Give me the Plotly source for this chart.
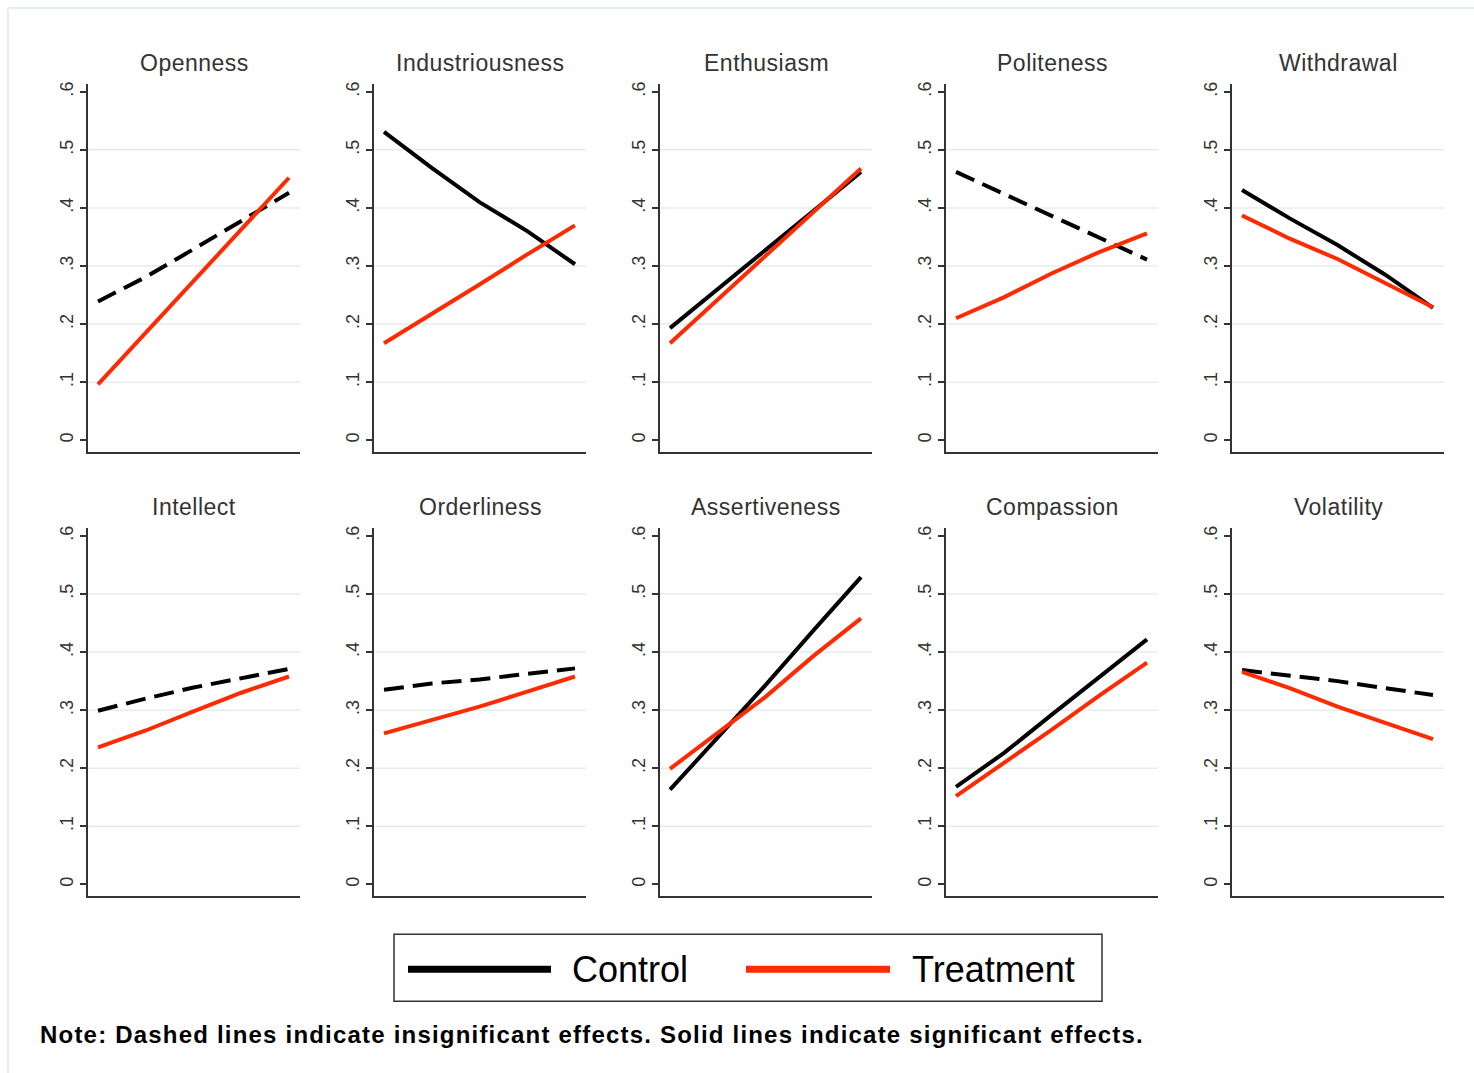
import plotly.graph_objects as go

# ---- data -------------------------------------------------------------
traits = ["Openness", "Industriousness", "Enthusiasm", "Politeness", "Withdrawal",
          "Intellect", "Orderliness", "Assertiveness", "Compassion", "Volatility"]

# position along the (unlabelled) horizontal axis
x_points = [0, 0.25, 0.5, 0.75, 1]

openness_control = [0.239, 0.281, 0.329, 0.377, 0.426]
openness_treatment = [0.096, 0.185, 0.274, 0.363, 0.452]
industriousness_control = [0.531, 0.469, 0.410, 0.360, 0.303]
industriousness_treatment = [0.167, 0.217, 0.268, 0.320, 0.370]
enthusiasm_control = [0.193, 0.260, 0.328, 0.395, 0.462]
enthusiasm_treatment = [0.167, 0.242, 0.318, 0.393, 0.468]
politeness_control = [0.462, 0.424, 0.386, 0.349, 0.311]
politeness_treatment = [0.210, 0.246, 0.287, 0.324, 0.356]
withdrawal_control = [0.431, 0.382, 0.336, 0.285, 0.228]
withdrawal_treatment = [0.387, 0.347, 0.312, 0.270, 0.229]
intellect_control = [0.299, 0.320, 0.339, 0.355, 0.371]
intellect_treatment = [0.236, 0.265, 0.298, 0.330, 0.358]
orderliness_control = [0.335, 0.346, 0.353, 0.362, 0.372]
orderliness_treatment = [0.260, 0.283, 0.306, 0.332, 0.358]
assertiveness_control = [0.163, 0.252, 0.343, 0.437, 0.529]
assertiveness_treatment = [0.199, 0.260, 0.323, 0.393, 0.458]
compassion_control = [0.168, 0.226, 0.292, 0.357, 0.422]
compassion_treatment = [0.152, 0.208, 0.266, 0.325, 0.382]
volatility_control = [0.369, 0.359, 0.350, 0.338, 0.326]
volatility_treatment = [0.366, 0.338, 0.306, 0.278, 0.250]

control_series = [openness_control, industriousness_control, enthusiasm_control,
                  politeness_control, withdrawal_control, intellect_control,
                  orderliness_control, assertiveness_control, compassion_control,
                  volatility_control]
treatment_series = [openness_treatment, industriousness_treatment, enthusiasm_treatment,
                    politeness_treatment, withdrawal_treatment, intellect_treatment,
                    orderliness_treatment, assertiveness_treatment, compassion_treatment,
                    volatility_treatment]

# significant control effect -> solid line, otherwise dashed
control_significant = [False, True, True, False, True, False, False, True, True, False]
treatment_significant = [True] * 10

y_ticks = [0, 0.1, 0.2, 0.3, 0.4, 0.5, 0.6]
y_tick_labels = ["0", ".1", ".2", ".3", ".4", ".5", ".6"]
grid_values = [0.1, 0.2, 0.3, 0.4, 0.5]

legend_labels = ["Control", "Treatment"]
note_text = "Note: Dashed lines indicate insignificant effects. Solid lines indicate significant effects."

# ---- styling / layout -------------------------------------------------
W, H = 1474, 1073
FONT = "Arial, Liberation Sans, Helvetica, sans-serif"
BLACK = "#000000"
RED = "#ff2a00"
AXIS = "#333333"
GRID = "#e3eded"
DASH = "20px,9px"

col_left = [88, 374, 660, 946, 1232]
panel_w = 212
row_top = [82, 527]
panel_h = 369
x_range = [-0.0524, 1.0576]
y_range = [-0.0206, 0.6137]


def px_x(v):
    return v / W


def px_y(v):
    return 1 - v / H


fig = go.Figure()
layout = dict(
    width=W, height=H,
    margin=dict(l=0, r=0, t=0, b=0),
    paper_bgcolor="white", plot_bgcolor="white",
    showlegend=False,
    font=dict(family=FONT, color=AXIS),
)
shapes = []
annotations = []

for i, trait in enumerate(traits):
    row, col = divmod(i, 5)
    n = i + 1
    xa = "x" if n == 1 else f"x{n}"
    ya = "y" if n == 1 else f"y{n}"
    left = col_left[col]
    top = row_top[row]

    layout["xaxis" if n == 1 else f"xaxis{n}"] = dict(
        domain=[px_x(left), px_x(left + panel_w)],
        range=x_range, anchor=ya,
        showticklabels=False, ticks="", showgrid=False, zeroline=False,
        showline=True, linecolor=AXIS, linewidth=2, fixedrange=True,
    )
    layout["yaxis" if n == 1 else f"yaxis{n}"] = dict(
        domain=[px_y(top + panel_h), px_y(top)],
        range=y_range, anchor=xa,
        tickvals=y_ticks, ticktext=y_tick_labels, tickangle=-90,
        ticks="outside", ticklen=6, tickwidth=1.5, tickcolor=AXIS,
        tickfont=dict(size=18, color=AXIS, family=FONT),
        showgrid=False, zeroline=False,
        showline=True, linecolor=AXIS, linewidth=2, fixedrange=True,
    )

    for g in grid_values:
        shapes.append(dict(type="line", xref=f"{xa} domain", yref=ya,
                           x0=0, x1=1, y0=g, y1=g,
                           line=dict(color=GRID, width=1.5), layer="below"))

    fig.add_trace(go.Scatter(
        x=x_points, y=control_series[i], xaxis=xa, yaxis=ya, mode="lines",
        name=legend_labels[0],
        line=dict(color=BLACK, width=4,
                  dash="solid" if control_significant[i] else DASH),
    ))
    fig.add_trace(go.Scatter(
        x=x_points, y=treatment_series[i], xaxis=xa, yaxis=ya, mode="lines",
        name=legend_labels[1],
        line=dict(color=RED, width=4,
                  dash="solid" if treatment_significant[i] else DASH),
    ))

    annotations.append(dict(
        text=f'<span style="letter-spacing:0.5px">{trait}</span>',
        xref="paper", yref="paper",
        x=px_x(left + panel_w / 2), y=px_y(top - 21),
        xanchor="center", yanchor="middle", showarrow=False,
        font=dict(size=23, color=AXIS, family=FONT),
    ))

# legend box drawn below the panels
shapes.append(dict(type="rect", xref="paper", yref="paper",
                   x0=px_x(394), x1=px_x(1102), y0=px_y(1001), y1=px_y(934),
                   line=dict(color=AXIS, width=1.5), fillcolor="white"))
for label, color, x0, x1, tx in [(legend_labels[0], BLACK, 408, 551, 570),
                                 (legend_labels[1], RED, 746, 890, 910)]:
    shapes.append(dict(type="line", xref="paper", yref="paper",
                       x0=px_x(x0), x1=px_x(x1), y0=px_y(969), y1=px_y(969),
                       line=dict(color=color, width=7)))
    annotations.append(dict(
        text=label, xref="paper", yref="paper", x=px_x(tx), y=px_y(969),
        xanchor="left", yanchor="middle", showarrow=False,
        font=dict(size=36, color=BLACK, family=FONT),
    ))

annotations.append(dict(
    text=f'<span style="letter-spacing:1.2px;font-weight:bold">{note_text}</span>',
    xref="paper", yref="paper", x=px_x(38), y=px_y(1034),
    xanchor="left", yanchor="middle", showarrow=False,
    font=dict(size=24, color=BLACK, family=FONT),
))

# faint outer frame of the graph region
shapes.append(dict(type="line", xref="paper", yref="paper",
                   x0=px_x(8), x1=1, y0=px_y(6), y1=px_y(6),
                   line=dict(color="#e4eeec", width=2)))
shapes.append(dict(type="line", xref="paper", yref="paper",
                   x0=px_x(8), x1=px_x(8), y0=0, y1=px_y(6),
                   line=dict(color="#e4eeec", width=2)))

layout["shapes"] = shapes
layout["annotations"] = annotations
fig.update_layout(**layout)
fig.write_html("out.html")
